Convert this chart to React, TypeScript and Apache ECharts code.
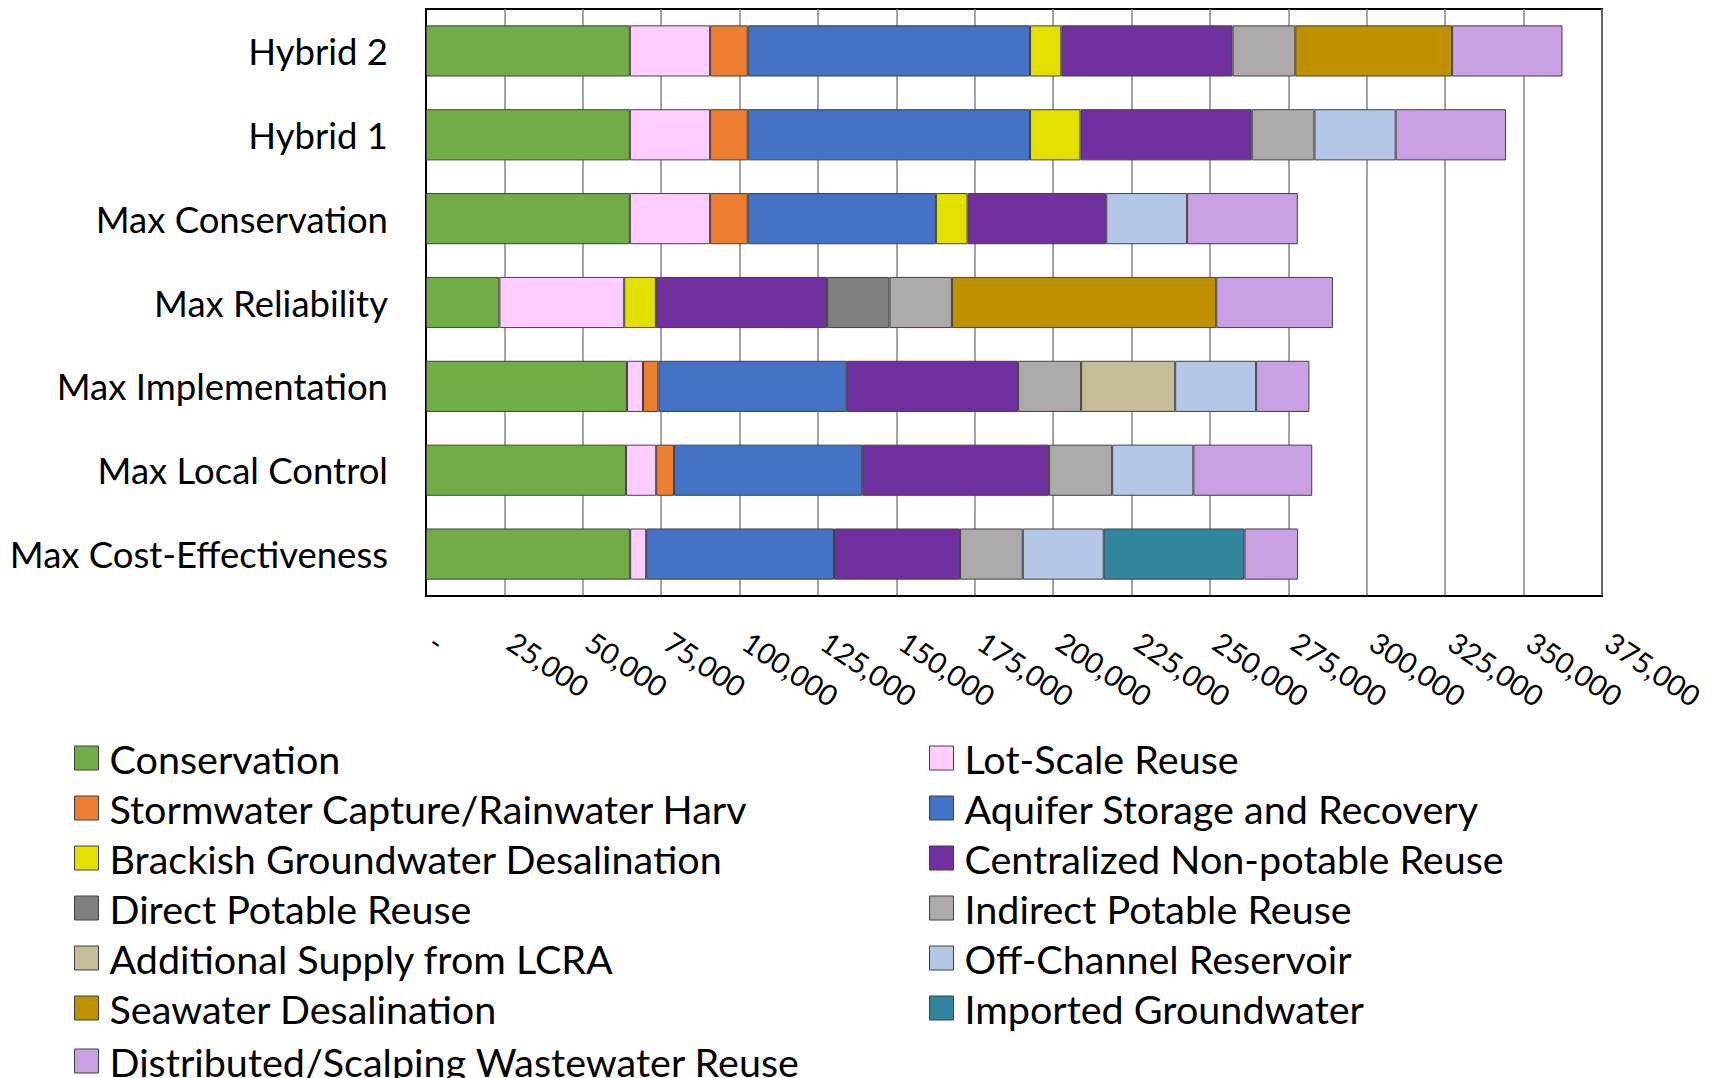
import React, { useEffect, useRef } from "react";
import * as echarts from "echarts";

const categories = [
  "Max Cost-Effectiveness",
  "Max Local Control",
  "Max Implementation",
  "Max Reliability",
  "Max Conservation",
  "Hybrid 1",
  "Hybrid 2",
];

// values ordered like categories (bottom to top)
const conservation = [65100, 63800, 64100, 23400, 65000, 65000, 65000];
const lotScaleReuse = [5100, 9600, 5100, 39800, 25600, 25600, 25600];
const stormwater = [null, 5700, 4900, null, 12000, 12000, 12000];
const asr = [59900, 60000, 60100, null, 60000, 90000, 90000];
const brackish = [null, null, null, 10100, 10100, 16100, 10000];
const centralizedNPR = [40200, 59600, 54600, 54600, 44200, 54600, 54600];
const directPotable = [null, null, null, 19900, null, null, null];
const indirectPotable = [20000, 20100, 20100, 19900, null, 20000, 20000];
const lcraSupply = [null, null, 30000, null, null, null, null];
const offChannel = [25800, 25900, 25800, null, 25800, 25900, null];
const seawater = [null, null, null, 84300, null, null, 50000];
const importedGW = [44900, null, null, null, null, null, null];
const distributed = [17100, 37900, 17000, 37200, 35300, 35200, 35200];

const seriesDefs = [
  { name: "Conservation", data: conservation, color: "#70AD47" },
  { name: "Lot-Scale Reuse", data: lotScaleReuse, color: "#FFCCFF" },
  { name: "Stormwater Capture/Rainwater Harv", data: stormwater, color: "#ED7D31" },
  { name: "Aquifer Storage and Recovery", data: asr, color: "#4472C4" },
  { name: "Brackish Groundwater Desalination", data: brackish, color: "#E3DF00" },
  { name: "Centralized Non-potable Reuse", data: centralizedNPR, color: "#7030A0" },
  { name: "Direct Potable Reuse", data: directPotable, color: "#808080" },
  { name: "Indirect Potable Reuse", data: indirectPotable, color: "#AEAAAA" },
  { name: "Additional Supply from LCRA", data: lcraSupply, color: "#C4BD97" },
  { name: "Off-Channel Reservoir", data: offChannel, color: "#B4C7E7" },
  { name: "Seawater Desalination", data: seawater, color: "#BF9000" },
  { name: "Imported Groundwater", data: importedGW, color: "#31859C" },
  { name: "Distributed/Scalping Wastewater Reuse", data: distributed, color: "#C9A0E3" },
];

const leftLegend = [
  "Conservation",
  "Stormwater Capture/Rainwater Harv",
  "Brackish Groundwater Desalination",
  "Direct Potable Reuse",
  "Additional Supply from LCRA",
  "Seawater Desalination",
];
const lastLegend = ["Distributed/Scalping Wastewater Reuse"];
const rightLegend = [
  "Lot-Scale Reuse",
  "Aquifer Storage and Recovery",
  "Centralized Non-potable Reuse",
  "Indirect Potable Reuse",
  "Off-Channel Reservoir",
  "Imported Groundwater",
];

const FONT = "Lato, 'Open Sans', sans-serif";

export default function App() {
  const ref = useRef<HTMLDivElement>(null);
  useEffect(() => {
    document.body.style.margin = "0";
    if (!ref.current) return;
    const chart = echarts.init(ref.current, undefined, { renderer: "svg" });
    const legendBase = {
      orient: "vertical" as const,
      top: 733,
      itemWidth: 24,
      itemHeight: 24,
      itemGap: 10,
      icon: "rect",
      selectedMode: false,
      itemStyle: { borderColor: "#404040", borderWidth: 1 },
      textStyle: {
        fontSize: 39.5,
        fontFamily: FONT,
        color: "#000",
        lineHeight: 40,
        padding: [0, 0, 0, 6],
      },
    };
    chart.setOption({
      animation: false,
      backgroundColor: "#fff",
      grid: {
        left: 426,
        right: 113,
        top: 9,
        height: 587,
        show: true,
        borderColor: "#000",
        borderWidth: 2,
        containLabel: false,
      },
      legend: [
        { ...legendBase, left: 69, data: leftLegend },
        { ...legendBase, left: 924, data: rightLegend },
        {
          ...legendBase,
          left: 69,
          top: 1036,
          textStyle: { ...legendBase.textStyle, lineHeight: 24 },
          data: lastLegend,
        },
      ],
      xAxis: {
        type: "value",
        min: 0,
        max: 375000,
        interval: 25000,
        axisLine: { show: true, lineStyle: { color: "#000", width: 2 } },
        axisTick: { show: false },
        splitLine: { show: true, lineStyle: { color: "#868686", width: 1.5 } },
        axisLabel: {
          rotate: -34,
          margin: 38,
          fontSize: 29,
          fontFamily: FONT,
          color: "#000",
          padding: [0, 0, 0, 8],
          formatter: (v: number) => (v === 0 ? "-" : v.toLocaleString("en-US")),
        },
      },
      yAxis: {
        type: "category",
        data: categories,
        axisLine: { show: true, lineStyle: { color: "#000", width: 2 } },
        axisTick: { show: false },
        splitLine: { show: false },
        axisLabel: {
          margin: 38,
          fontSize: 36.5,
          fontFamily: FONT,
          color: "#000",
          padding: [0, 0, 4, 0],
        },
      },
      series: seriesDefs.map((s) => ({
        type: "bar",
        name: s.name,
        stack: "total",
        data: s.data,
        barCategoryGap: "39%",
        itemStyle: { color: s.color, borderColor: "#404040", borderWidth: 1 },
        emphasis: { disabled: true },
      })),
    });
    return () => chart.dispose();
  }, []);
  return <div ref={ref} style={{ width: 1715, height: 1078 }} />;
}
